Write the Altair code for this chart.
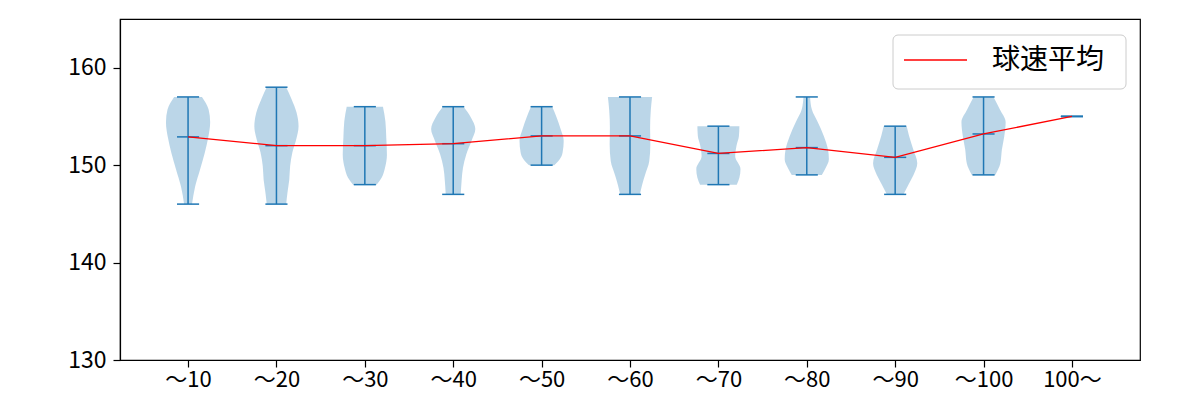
import json
import altair as alt
import pandas as pd

# ---- data ----
categories = ["～10", "～20", "～30", "～40", "～50", "～60", "～70", "～80", "～90", "～100", "100～"]
maxs = [157, 158, 156, 156, 156, 157, 154, 157, 154, 157, 155]
mins = [146, 146, 148, 147, 150, 147, 148, 149, 147, 149, 155]
means = [152.9, 152.0, 152.0, 152.2, 153.0, 153.0, 151.2, 151.8, 150.8, 153.2, 155.0]
series_name = "球速平均"

# violin outlines: speed levels and relative density (1 = widest) per category
violin_levels = [
    [146, 147.8, 149.6, 151.3, 152.8, 154.4, 155.7, 157],
    [146, 147.2, 148.5, 149.9, 151.3, 152.6, 154.0, 155.4, 156.8, 158],
    [148, 148.7, 149.7, 151.1, 152.8, 154.5, 156],
    [147, 148.4, 149.7, 151.1, 152.5, 153.7, 154.9, 156],
    [150, 150.6, 151.3, 152.5, 153.7, 154.9, 156],
    [147, 148, 149, 150.4, 152.1, 153.8, 155.6, 157],
    [148, 148.7, 149.6, 150.9, 152, 153, 154],
    [149, 149.6, 150.6, 151.6, 153, 154.4, 155.7, 157],
    [147, 148, 149, 150.2, 151.6, 153, 154],
    [149, 150.2, 151.6, 153, 154.4, 155.7, 157],
    [],
]
violin_density = [
    [0.18, 0.32, 0.55, 0.76, 0.91, 1.0, 0.93, 0.63],
    [0.44, 0.5, 0.58, 0.62, 0.72, 0.89, 1.0, 0.91, 0.68, 0.44],
    [0.53, 0.76, 0.91, 1.0, 0.97, 0.93, 0.82],
    [0.34, 0.38, 0.44, 0.59, 0.83, 1.0, 0.8, 0.47],
    [0.57, 0.82, 0.95, 1.0, 0.86, 0.68, 0.48],
    [0.45, 0.55, 0.68, 0.87, 0.92, 0.91, 0.94, 1.0],
    [0.83, 0.95, 1.0, 0.76, 0.82, 0.93, 0.95],
    [0.68, 0.83, 1.0, 0.96, 0.77, 0.5, 0.23, 0.15],
    [0.38, 0.6, 0.83, 1.0, 0.82, 0.63, 0.52],
    [0.53, 0.76, 0.83, 0.94, 1.0, 0.74, 0.45],
    [],
]

# ---- tables ----
stats = pd.DataFrame({
    "pos": list(range(1, len(categories) + 1)),
    "cat": categories,
    "vmax": maxs,
    "vmin": mins,
    "vmean": means,
})

vrows = []
for i, (lv, dn) in enumerate(zip(violin_levels, violin_density)):
    for v, d in zip(lv, dn):
        vrows.append({"pos": i + 1, "v": v, "d": d})
violins = pd.DataFrame(vrows)

legend_df = pd.DataFrame({"label": [series_name]})

BLUE = "#1f77b4"
FONT = "Noto Sans CJK JP"

xscale = alt.Scale(domain=[0.23, 11.77], nice=False, zero=False)
yscale = alt.Scale(domain=[130, 165], nice=False, zero=False)

labels_js = json.dumps(categories, ensure_ascii=False)
xaxis = alt.Axis(values=list(range(1, len(categories) + 1)),
                 labelExpr=f"{labels_js}[round(datum.value)-1]",
                 title=None, grid=False, labelPadding=2, labelFontSize=22)
yaxis = alt.Axis(values=[130, 140, 150, 160], title=None, grid=False, labelPadding=7)

body = alt.Chart(violins).transform_calculate(
    xl="datum.pos - 0.25*datum.d",
    xr="datum.pos + 0.25*datum.d",
).mark_area(orient="horizontal", interpolate="monotone", color=BLUE, opacity=0.3).encode(
    y=alt.Y("v:Q", scale=yscale, axis=yaxis),
    x=alt.X("xl:Q", scale=xscale, axis=xaxis, stack=None),
    x2="xr:Q",
    detail="pos:N",
)

base = alt.Chart(stats).transform_calculate(
    cl="datum.pos - 0.125",
    cr="datum.pos + 0.125",
)

vline = base.mark_rule(color=BLUE, strokeWidth=1.5).encode(
    x=alt.X("pos:Q", scale=xscale, axis=xaxis),
    y=alt.Y("vmin:Q", scale=yscale, axis=yaxis),
    y2="vmax:Q",
)

def cap(field):
    return base.mark_rule(color=BLUE, strokeWidth=1.5).encode(
        x=alt.X("cl:Q", scale=xscale, axis=xaxis),
        x2="cr:Q",
        y=alt.Y(f"{field}:Q", scale=yscale, axis=yaxis),
    )

mean_line = alt.Chart(stats).mark_line(strokeWidth=1.3, color="red").encode(
    x=alt.X("pos:Q", scale=xscale, axis=xaxis),
    y=alt.Y("vmean:Q", scale=yscale, axis=yaxis),
)

# legend box (matplotlib style, upper right)
leg_box = alt.Chart(legend_df).mark_rect(
    fill="white", fillOpacity=0.85, stroke="#cccccc", strokeWidth=1, cornerRadius=5
).encode(x=alt.value(773), x2=alt.value(1006), y=alt.value(16), y2=alt.value(70))
leg_line = alt.Chart(legend_df).mark_rule(color="red", strokeWidth=1.5).encode(
    x=alt.value(784), x2=alt.value(847), y=alt.value(41)
)
leg_text = alt.Chart(legend_df).mark_text(
    font=FONT, fontSize=28, align="left", baseline="middle", color="black"
).encode(x=alt.value(872), y=alt.value(42), text="label:N")

chart = alt.layer(
    body, vline, cap("vmax"), cap("vmin"), cap("vmean"), mean_line,
    leg_box, leg_line, leg_text,
).properties(
    width=1020, height=341,
    autosize=alt.AutoSizeParams(type="none"),
    padding={"left": 112, "top": 11, "right": 52, "bottom": 32},
    background="white",
).configure_view(
    stroke="black", strokeWidth=1.2,
).configure_axis(
    labelFont=FONT, labelFontSize=23, labelColor="black",
    tickColor="black", tickSize=7, tickWidth=1.2,
    domainColor="black", domainWidth=1.2,
)

chart.save("out.html", embed_options={"renderer": "svg", "actions": False})
